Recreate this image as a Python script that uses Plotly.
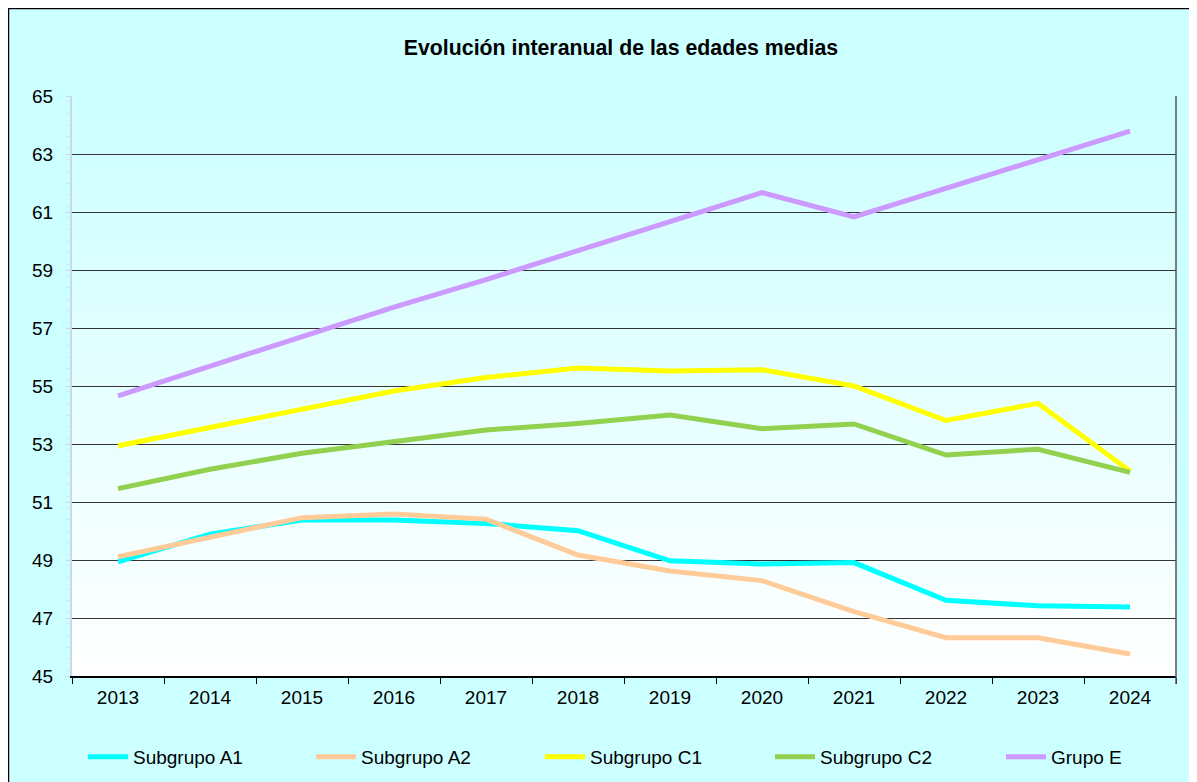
import plotly.graph_objects as go

years = ["2013", "2014", "2015", "2016", "2017", "2018", "2019", "2020", "2021", "2022", "2023", "2024"]

subgrupo_a1 = [48.94, 49.89, 50.38, 50.38, 50.26, 50.01, 48.97, 48.86, 48.91, 47.61, 47.42, 47.38]
subgrupo_a2 = [49.11, 49.80, 50.46, 50.59, 50.41, 49.17, 48.62, 48.29, 47.22, 46.32, 46.32, 45.76]
subgrupo_c1 = [52.94, 53.57, 54.20, 54.83, 55.29, 55.62, 55.52, 55.56, 55.00, 53.81, 54.40, 52.07]
subgrupo_c2 = [51.46, 52.13, 52.68, 53.10, 53.48, 53.71, 54.00, 53.53, 53.69, 52.62, 52.82, 52.02]
grupo_e = [54.66, 55.67, 56.68, 57.72, 58.67, 59.67, 60.67, 61.67, 60.83, 61.81, 62.80, 63.79]

series = [
    ("Subgrupo A1", subgrupo_a1, "#00FFFF"),
    ("Subgrupo A2", subgrupo_a2, "#FFCC99"),
    ("Subgrupo C1", subgrupo_c1, "#FFFF00"),
    ("Subgrupo C2", subgrupo_c2, "#92D050"),
    ("Grupo E", grupo_e, "#CC99FF"),
]

W, H = 1197, 782
L, R, T, B = 64, 29, 88, 114
pw, ph = W - L - R, H - T - B


def px_to_paper_x(px):
    return (px - L) / pw


def px_to_paper_y(py):
    return 1 - (py - T) / ph


legend_px = [75, 303, 532, 762, 993]

fig = go.Figure()
layout_legends = {}
for i, (name, vals, col) in enumerate(series):
    key = "legend" if i == 0 else f"legend{i + 1}"
    fig.add_trace(go.Scatter(x=years, y=vals, name=name, mode="lines",
                             line=dict(color=col, width=5), legend=key))
    layout_legends[key] = dict(orientation="h", x=px_to_paper_x(legend_px[i]),
                               xanchor="left", y=px_to_paper_y(749), yanchor="middle",
                               font=dict(size=19), bgcolor="rgba(0,0,0,0)",
                               itemwidth=40)

shapes = []
shapes.append(dict(type="rect", xref="paper", yref="paper",
                   x0=px_to_paper_x(0), x1=px_to_paper_x(1210),
                   y0=px_to_paper_y(800), y1=px_to_paper_y(0),
                   fillcolor="#CCFFFF", line=dict(color="black", width=2.5),
                   layer="below"))
n = 60
for i in range(n):
    t = i / (n - 1)
    r = int(round(0xCC + (0xFF - 0xCC) * (1 - t)))
    shapes.append(dict(type="rect", xref="paper", yref="paper",
                       x0=0, x1=1, y0=i / n, y1=(i + 1) / n + 0.002,
                       fillcolor=f"rgb({r},255,255)", line=dict(width=0), layer="below"))
shapes.append(dict(type="line", xref="paper", yref="paper", x0=1, x1=1,
                   y0=px_to_paper_y(H - B + 8), y1=1, line=dict(color="#555555", width=1.5)))

fig.update_layout(
    width=W, height=H,
    margin=dict(l=L, r=R, t=T, b=B, autoexpand=False),
    paper_bgcolor="white",
    plot_bgcolor="rgba(0,0,0,0)",
    shapes=shapes,
    font=dict(family="Liberation Sans, Arial, sans-serif", size=19, color="black"),
    title=dict(text="<b>Evolución interanual de las edades medias</b>",
               x=px_to_paper_x(613), xref="paper", xanchor="center",
               y=1 - 40 / H, yref="container", yanchor="middle",
               font=dict(size=21.3, color="black")),
    showlegend=True,
    **layout_legends,
)

fig.update_xaxes(type="category", range=[-0.5, 11.5], tickson="boundaries", ticks="outside",
                 ticklen=6, tickcolor="black", showline=True, linecolor="black",
                 linewidth=2, showgrid=False, mirror=False,
                 tickfont=dict(size=19), ticklabelstandoff=3)
fig.update_yaxes(range=[45, 65], dtick=2, tick0=45, showgrid=True,
                 gridcolor="#333333", gridwidth=1, showline=True,
                 linecolor="#C8D8E8", linewidth=2, ticks="outside",
                 tickcolor="#C8D8E8", ticklen=5, zeroline=False,
                 minor=dict(dtick=0.4, ticks="outside", ticklen=4, tickcolor="#D8E4F0",
                            showgrid=False),
                 tickfont=dict(size=19), ticklabelstandoff=8)

fig.write_html("out.html")
